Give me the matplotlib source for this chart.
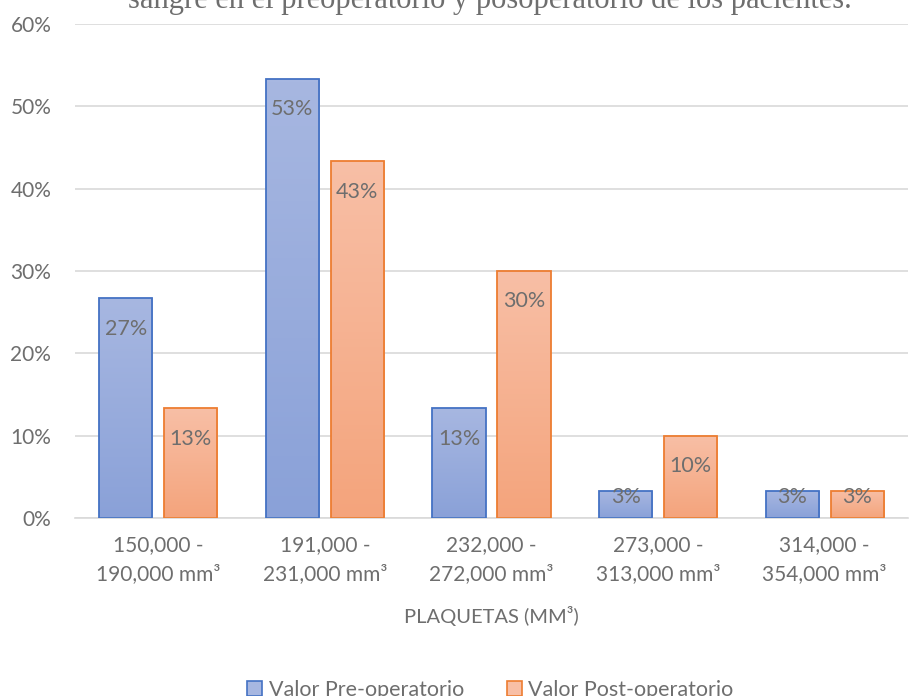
import numpy as np
import matplotlib.pyplot as plt
from matplotlib.patches import Patch
from matplotlib.colors import to_rgb

plt.rcParams['font.family'] = ['Lato', 'DejaVu Sans']

categories = ['150,000 -\n190,000 mm³', '191,000 -\n231,000 mm³', '232,000 -\n272,000 mm³',
              '273,000 -\n313,000 mm³', '314,000 -\n354,000 mm³']
pre_values = [26.67, 53.33, 13.33, 3.33, 3.33]
post_values = [13.33, 43.33, 30.0, 10.0, 3.33]
series_names = ['Valor Pre-operatorio', 'Valor Post-operatorio']

gray = '#6e6e6e'
blue_edge, blue_top, blue_bot = '#4472c4', '#a7b7e1', '#8aa1d8'
orange_edge, orange_top, orange_bot = '#ed7d31', '#f8bfa6', '#f4a47c'

fig = plt.figure(figsize=(9.13, 6.96), dpi=100)
ax = fig.add_axes([0.0821, 0.2557, 0.9124, 0.7098])

x = np.arange(len(categories))
width = 0.32
offset = 0.195


def gradient_bars(xs, vals, top_c, bot_c, edge):
    bars = ax.bar(xs, vals, width, facecolor='none', edgecolor=edge, linewidth=1.3, zorder=3)
    c1 = np.array(to_rgb(top_c))
    c2 = np.array(to_rgb(bot_c))
    grad = np.linspace(0, 1, 100)[:, None, None]
    img = c1 * (1 - grad) + c2 * grad
    for b in bars:
        x0, w, h = b.get_x(), b.get_width(), b.get_height()
        im = ax.imshow(img, extent=(x0, x0 + w, 0, h), aspect='auto', zorder=2, origin='upper')
        im.set_clip_path(b)
    return bars


gradient_bars(x - offset, pre_values, blue_top, blue_bot, blue_edge)
gradient_bars(x + offset, post_values, orange_top, orange_bot, orange_edge)

# data labels inside the bar end, kept above the baseline for the small bars
for xs, vals in [(x - offset, pre_values), (x + offset, post_values)]:
    for xi, v in zip(xs, vals):
        ax.text(xi, max(v - 3.7, 2.55), f'{v:.0f}%', ha='center', va='center',
                fontsize=15.5, color=gray, zorder=4)

ax.set_xlim(-0.5, len(categories) - 0.5)
ax.set_ylim(0, 60)
ax.set_yticks(range(0, 61, 10))
ax.set_yticklabels([f'{t}%' for t in range(0, 61, 10)])
ax.set_xticks(x)
ax.set_xticklabels(categories, linespacing=1.6)
ax.tick_params(axis='both', length=0, labelsize=15, labelcolor=gray)
ax.tick_params(axis='y', pad=17)
ax.tick_params(axis='x', pad=12)
ax.grid(axis='y', color='#d9d9d9', linewidth=1.2, zorder=0)
for s in ['top', 'right', 'left']:
    ax.spines[s].set_visible(False)
ax.spines['bottom'].set_color('#d9d9d9')
ax.spines['bottom'].set_linewidth(1.2)
ax.set_axisbelow(True)

# title is cropped at the top edge, as in the source image
fig.text(0.537, 0.988, 'sangre en el preoperatorio y posoperatorio de los pacientes.',
         ha='center', va='baseline', fontsize=22, color=gray, family='Liberation Serif')

fig.text(0.5384, 0.115, 'PLAQUETAS (MM³)', ha='center', va='center', fontsize=14.5, color=gray)

handles = [Patch(facecolor=blue_top, edgecolor=blue_edge, linewidth=1.2),
           Patch(facecolor=orange_top, edgecolor=orange_edge, linewidth=1.2)]
fig.legend(handles, series_names, loc='center', bbox_to_anchor=(0.537, 0.009), ncol=2,
           frameon=False, fontsize=15.5, labelcolor=gray, handlelength=0.7, handleheight=0.7,
           handletextpad=0.3, columnspacing=2.0)

fig.savefig('out.png', dpi=100)
